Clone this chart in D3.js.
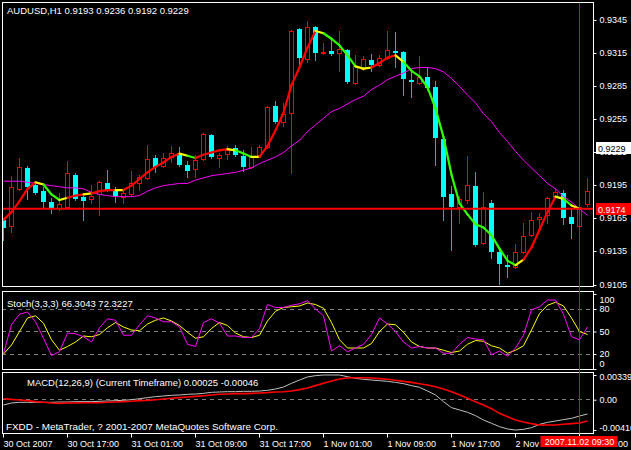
<!DOCTYPE html>
<html><head><meta charset="utf-8">
<script src="https://cdn.jsdelivr.net/npm/d3@7"></script>
<style>
html,body{margin:0;padding:0;background:#000;}
svg{display:block;}
text{font-family:"Liberation Sans",Arial,sans-serif;font-size:9.5px;fill:#fff;}
</style></head><body>
<svg id="c" width="631" height="450"></svg>
<script>
// ---------- DATA ----------
const symbolTitle = "AUDUSD,H1  0.9193 0.9236 0.9192 0.9229";
const stochTitle = "Stoch(3,3,3) 66.3043 72.3227";
const macdTitle = "MACD(12,26,9) (Current Timeframe) 0.00025 -0.00046";
const brokerText = "FXDD - MetaTrader, ? 2001-2007 MetaQuotes Software Corp.";

const openP = [.9164,.9158,.9192,.9211,.9196,.9190,.9180,.9175,.9176,.9205,
 .9185,.9183,.9187,.9197,.9192,.9185,.9187,.9197,.9202,.9220,
 .9213,.9221,.9225,.9214,.9210,.9219,.9241,.9220,.9224,.9229,
 .9222,.9212,.9223,.9230,.9267,.9253,.9261,.9337,.9310,.9339,
 .9315,.9317,.9315,.9318,.9288,.9301,.9309,.9304,.9311,.9317,
 .9316,.9291,.9288,.9293,.9284,.9237,.9187,.9176,.9182,.9195,
 .9143,.9179,.9135,.9123,.9121,.9135,.9150,.9165,.9168,.9185,
 .9188,.9167,.9158,.9178];
const highP = [.9166,.9204,.9220,.9213,.9198,.9194,.9184,.9188,.9217,.9206,
 .9186,.9196,.9199,.9209,.9194,.9190,.9208,.9205,.9232,.9223,
 .9225,.9231,.9230,.9217,.9223,.9243,.9242,.9225,.9231,.9232,
 .9227,.9230,.9232,.9267,.9272,.9270,.9336,.9338,.9344,.9340,
 .9324,.9327,.9335,.9319,.9313,.9312,.9314,.9313,.9335,.9334,
 .9317,.9300,.9312,.9302,.9290,.9240,.9195,.9186,.9222,.9207,
 .9189,.9182,.9139,.9132,.9142,.9161,.9171,.9170,.9185,.9193,
 .9191,.9174,.9177,.9202];
const lowP = [.9146,.9153,.9191,.9183,.9187,.9175,.9170,.9173,.9175,.9182,
 .9164,.9179,.9168,.9190,.9180,.9179,.9186,.9191,.9201,.9207,
 .9212,.9216,.9213,.9203,.9203,.9218,.9220,.9212,.9219,.9222,
 .9208,.9211,.9222,.9229,.9252,.9249,.9206,.9302,.9307,.9309,
 .9314,.9313,.9299,.9288,.9287,.9300,.9299,.9303,.9310,.9302,
 .9277,.9275,.9287,.9282,.9214,.9164,.9137,.9161,.9179,.9140,
 .9142,.9129,.9106,.9112,.9120,.9134,.9149,.9157,.9161,.9184,
 .9160,.9148,.9157,.9177];
const closeP = [.9157,.9194,.9212,.9194,.9188,.9180,.9175,.9178,.9206,.9183,
 .9181,.9186,.9198,.9191,.9186,.9188,.9197,.9203,.9219,.9212,
 .9220,.9225,.9214,.9208,.9218,.9242,.9221,.9223,.9227,.9223,
 .9212,.9221,.9230,.9266,.9253,.9260,.9335,.9311,.9339,.9315,
 .9316,.9314,.9319,.9289,.9303,.9310,.9304,.9311,.9318,.9315,
 .9292,.9289,.9293,.9283,.9238,.9185,.9176,.9183,.9196,.9141,
 .9176,.9135,.9124,.9121,.9135,.9149,.9164,.9167,.9184,.9189,
 .9166,.9160,.9176,.9190];

// coloured fast MA and its trend state (1 up, -1 down, 0 flat)
const maFast = [.9164,.9171,.9181,.9192,.9198,.9196,.9187,.9182,.9184,.9186,
 .9187,.9188,.9190,.9191,.9191,.9191,.9195,.9201,.9207,.9212,
 .9216,.9221,.9224,.9222,.9220,.9223,.9225,.9227,.9228,.9227,
 .9224,.9221,.9221,.9231,.9245,.9261,.9286,.9302,.9320,.9335,
 .9333,.9328,.9322,.9313,.9303,.9301,.9302,.9306,.9311,.9313,
 .9307,.9299,.9294,.9284,.9265,.9239,.9205,.9179,.9169,.9160,
 .9157,.9150,.9138,.9127,.9123,.9128,.9139,.9155,.9171,.9185,
 .9183,.9177,.9174,null];
const maTrend = [0,1,1,1,1,0,-1,-1,0,1,
 1,0,1,1,1,0,1,1,1,1,
 1,1,1,0,-1,1,1,1,1,0,
 -1,-1,0,1,1,1,1,1,1,1,
 0,-1,-1,-1,-1,0,0,1,1,1,
 0,-1,-1,-1,-1,-1,-1,-1,-1,-1,
 -1,-1,-1,-1,-1,0,1,1,1,1,
 0,-1,0,0];
// slow MA (magenta)
const maSlow = [.9199,.9199,.9199,.9198,.9197,.9196,.9195,.9194,.9193,.9193,
 .9192,.9189,.9187,.9186,.9185,.9185,.9185,.9186,.9190,.9193,
 .9195,.9196,.9197,.9197,.9200,.9202,.9204,.9205,.9206,.9207,
 .9209,.9211,.9215,.9218,.9221,.9225,.9231,.9236,.9244,.9250,
 .9256,.9262,.9265,.9269,.9273,.9276,.9282,.9286,.9291,.9294,
 .9297,.9301,.9302,.9302,.9301,.9298,.9292,.9285,.9277,.9270,
 .9260,.9253,.9243,.9235,.9226,.9218,.9211,.9204,.9197,.9192,
 .9185,.9180,.9174,.9168];

const stochK = [21,59,73,76,63,41,18,23,48,47,43,36,55,67,65,45,45,59,71,68,
 63,63,56,33,30,62,67,61,44,44,42,42,54,86,82,82,85,87,91,80,
 71,24,31,23,28,33,46,68,60,50,36,28,30,28,28,21,21,33,42,40,
 39,19,24,17,28,45,79,83,92,92,73,43,39,56];
const stochD = [20,32,50,68,71,61,39,25,30,36,44,43,46,55,62,56,52,51,60,65,
 68,64,58,49,41,43,54,62,58,48,43,42,45,64,77,82,83,84,88,86,
 81,62,39,28,28,28,34,50,60,59,49,36,30,28,28,25,22,24,33,38,
 37,31,28,21,25,31,52,74,85,89,84,68,50,46];
const stochLevels = [80,50,20];
const stochTicks = [100,80,50,20,0];

const macdMain = [-.00073,-.00045,-.00036,-.00036,-.00036,-.00036,-.00036,-.00032,-.00032,-.00027,
 -.00027,-.00027,-.00022,-.00018,-.00013,-.00009,.00000,.00014,.00028,.00042,
 .00051,.00060,.00065,.00074,.00078,.00087,.00101,.00106,.00110,.00110,
 .00115,.00115,.00119,.00129,.00147,.00174,.00225,.00270,.00312,.00330,
 .00339,.00339,.00339,.00316,.00293,.00280,.00270,.00261,.00252,.00238,
 .00220,.00193,.00170,.00119,.00065,-.00027,-.00109,-.00141,-.00173,-.00219,
 -.00279,-.00324,-.00370,-.00402,-.00416,-.00407,-.00384,-.00338,-.00311,-.00292,
 -.00274,-.00256,-.00224,-.00196];
const macdSignal = [.00014,.00005,-.00004,-.00013,-.00027,-.00036,-.00045,-.00050,-.00045,-.00045,
 -.00041,-.00041,-.00041,-.00036,-.00032,-.00027,-.00022,-.00013,-.00009,.00000,
 .00010,.00019,.00028,.00037,.00046,.00055,.00065,.00074,.00078,.00083,
 .00083,.00087,.00092,.00097,.00106,.00110,.00119,.00138,.00161,.00193,
 .00225,.00257,.00284,.00298,.00302,.00302,.00298,.00289,.00280,.00266,
 .00252,.00238,.00220,.00202,.00179,.00147,.00110,.00069,.00019,-.00027,
 -.00073,-.00123,-.00187,-.00233,-.00279,-.00306,-.00329,-.00347,-.00347,-.00347,
 -.00338,-.00329,-.00320,-.00292];
const macdTicks = [0.00339, 0, -0.00416];
const macdTickLabels = ["0.00339","0.00","-0.00416"];

const priceTicks = [0.9345,0.9315,0.9285,0.9255,0.9225,0.9195,0.9165,0.9135,0.9105];
const timeTickIdx = [0,8,16,24,32,40,48,56,64,72];
const timeTickLabels = ["30 Oct 2007","30 Oct 17:00","31 Oct 01:00","31 Oct 09:00","31 Oct 17:00",
 "1 Nov 01:00","1 Nov 09:00","1 Nov 17:00","2 Nov 01:00","2 Nov 09:00"];
const hLinePrice = 0.9174;
const bidPrice = 0.9229;
const vLineIdx = 72;
const vLineLabel = "2007.11.02 09:30";

// ---------- LAYOUT ----------
const L = 2, R = 593;
const main = {t:2, b:286};
const sto = {t:291, b:369};
const mac = {t:372, b:433};
const BULL = "#ff0000", BEAR = "#00ffff", BEARWICK = "#20b2aa";
const trendColor = {"1":"#ff0000","-1":"#33ff00","0":"#ffff00"};
const AXFONT = "9px";

const svg = d3.select("#c");
svg.append("rect").attr("width",631).attr("height",450).attr("fill","#000");

const x = d3.scaleLinear().domain([0,73]).range([3.5,587.5]);
const yP = d3.scaleLinear().domain([0.9105,0.9345]).range([285,20]);
const yS = d3.scaleLinear().domain([0,100]).range([369,294]);
const yM = d3.scaleLinear().domain([-0.00416,0.00339]).range([430,375]);

const defs = svg.append("defs");
function clip(id,p){defs.append("clipPath").attr("id",id).append("rect")
  .attr("x",L+1).attr("y",p.t+1).attr("width",R-L-1).attr("height",p.b-p.t-1);}
clip("cm",main); clip("cs",sto); clip("cd",mac);

const idx = d3.range(openP.length);
const px = v => Math.round(v-0.5)+0.5;

// ---------- MAIN ----------
const gm = svg.append("g").attr("clip-path","url(#cm)");
gm.selectAll(".wick").data(idx).join("line")
  .attr("x1",i=>px(x(i))).attr("x2",i=>px(x(i)))
  .attr("y1",i=>Math.round(yP(highP[i]))).attr("y2",i=>Math.round(yP(lowP[i]))+1)
  .attr("stroke",i=>closeP[i]>=openP[i]?BULL:BEARWICK).attr("stroke-width",1);
const bulls = idx.filter(i=>closeP[i]>=openP[i]);
const bears = idx.filter(i=>closeP[i]<openP[i]);
gm.selectAll(".bull").data(bulls).join("rect")
  .attr("x",i=>px(x(i))-2).attr("width",4)
  .attr("y",i=>Math.round(yP(closeP[i]))+0.5)
  .attr("height",i=>Math.max(0,Math.round(yP(openP[i]))-Math.round(yP(closeP[i]))))
  .attr("fill","#000").attr("stroke",BULL).attr("stroke-width",1);
gm.selectAll(".bear").data(bears).join("rect")
  .attr("x",i=>px(x(i))-2.5).attr("width",5)
  .attr("y",i=>Math.round(yP(openP[i])))
  .attr("height",i=>Math.max(1,Math.round(yP(closeP[i]))-Math.round(yP(openP[i]))))
  .attr("fill",BEAR);

// slow MA
gm.append("path").datum(idx).attr("fill","none").attr("stroke","#ff00ff").attr("stroke-width",1)
  .attr("d",d3.line().x(i=>x(i)).y(i=>yP(maSlow[i])));
// fast coloured MA
const segs = idx.filter(i=>i>0 && maFast[i]!=null && maFast[i-1]!=null);
gm.selectAll(".seg").data(segs).join("line")
  .attr("x1",i=>x(i-1)).attr("y1",i=>yP(maFast[i-1]))
  .attr("x2",i=>x(i)).attr("y2",i=>yP(maFast[i]))
  .attr("stroke",i=>trendColor[String(maTrend[i])]).attr("stroke-width",2.2).attr("stroke-linecap","round");

// horizontal line
svg.append("line").attr("x1",L).attr("x2",R).attr("y1",yP(hLinePrice)).attr("y2",yP(hLinePrice))
  .attr("stroke","#ff0000").attr("stroke-width",2);

// ---------- STOCH ----------
const gs = svg.append("g").attr("clip-path","url(#cs)");
gs.selectAll(".lvl").data(stochLevels).join("line")
  .attr("x1",L).attr("x2",R).attr("y1",d=>px(yS(d))).attr("y2",d=>px(yS(d)))
  .attr("stroke","#808080").attr("stroke-dasharray","4,4");
gs.append("path").datum(idx).attr("fill","none").attr("stroke","#ffff00").attr("stroke-width",1)
  .attr("d",d3.line().x(i=>x(i)).y(i=>yS(stochD[i])));
gs.append("path").datum(idx).attr("fill","none").attr("stroke","#ff00ff").attr("stroke-width",1)
  .attr("d",d3.line().x(i=>x(i)).y(i=>yS(stochK[i])));

// ---------- MACD ----------
const gd = svg.append("g").attr("clip-path","url(#cd)");
gd.append("line").attr("x1",L).attr("x2",R).attr("y1",px(yM(0))).attr("y2",px(yM(0)))
  .attr("stroke","#808080").attr("stroke-dasharray","4,4");
gd.append("path").datum(idx).attr("fill","none").attr("stroke","#c0c0c0").attr("stroke-width",1)
  .attr("d",d3.line().x(i=>x(i)).y(i=>yM(macdMain[i])));
gd.append("path").datum(idx).attr("fill","none").attr("stroke","#ff0000").attr("stroke-width",1.6)
  .attr("d",d3.line().x(i=>x(i)).y(i=>yM(macdSignal[i])));

// ---------- BORDERS ----------
[main,sto,mac].forEach(p=>{
  svg.append("rect").attr("x",L+0.5).attr("y",p.t+0.5).attr("width",R-L).attr("height",p.b-p.t)
    .attr("fill","none").attr("stroke","#fff").attr("stroke-width",1);
});

// vertical line
svg.append("rect").attr("x",Math.floor(x(vLineIdx))).attr("y",L+1).attr("width",1).attr("height",mac.b-L)
  .attr("fill","#ff0000").attr("shape-rendering","crispEdges");

// ---------- AXES ----------
function styleAxis(g){
  g.select(".domain").remove();
  g.selectAll(".tick line").attr("stroke","#fff");
  g.selectAll(".tick text").attr("fill","#fff").style("font-family","'Liberation Sans',Arial,sans-serif").style("font-size",AXFONT);
}
const ap = svg.append("g").attr("transform",`translate(${R+0.5},0)`)
  .call(d3.axisRight(yP).tickValues(priceTicks).tickFormat(d3.format(".4f")).tickSize(3).tickPadding(3));
styleAxis(ap);
ap.selectAll(".tick").attr("transform",d=>`translate(0,${px(yP(d))})`);

const as = svg.append("g").attr("transform",`translate(${R+0.5},0)`)
  .call(d3.axisRight(yS).tickValues(stochTicks).tickFormat(d3.format("d")).tickSize(3).tickPadding(3));
styleAxis(as);
as.selectAll(".tick text").attr("dy",d=>d===100?"0.95em":(d===0?"-0.25em":"0.32em"));

const ad = svg.append("g").attr("transform",`translate(${R+0.5},0)`)
  .call(d3.axisRight(yM).tickValues(macdTicks).tickFormat((d,k)=>macdTickLabels[k]).tickSize(3).tickPadding(3));
styleAxis(ad);
ad.selectAll(".tick text").attr("dy",(d,k)=>k===0?"0.55em":(k===2?"0.05em":"0.32em"));

const at = svg.append("g").attr("transform",`translate(0,${mac.b+0.5})`)
  .call(d3.axisBottom(x).tickValues(timeTickIdx).tickFormat((d,k)=>timeTickLabels[k]).tickSize(4).tickPadding(2));
styleAxis(at);
at.selectAll(".tick").attr("transform",d=>`translate(${px(x(d))},0)`);
at.selectAll(".tick text").attr("text-anchor","start").attr("x",0).attr("dy","0.85em");

// bid label box
const by = Math.round(yP(bidPrice));
svg.append("rect").attr("x",R+3).attr("y",by-6).attr("width",40).attr("height",12).attr("fill","#fff");
svg.append("text").attr("x",R+5).attr("y",by+3.5).style("fill","#000").style("font-size",AXFONT).text(d3.format(".4f")(bidPrice));
// hline label box
const hy = Math.round(yP(hLinePrice));
svg.append("rect").attr("x",R+3).attr("y",hy-6).attr("width",40).attr("height",12).attr("fill","#ff0000");
svg.append("text").attr("x",R+5).attr("y",hy+3.5).style("font-size",AXFONT).text(d3.format(".4f")(hLinePrice));
// vline time label
const vx = px(x(vLineIdx));
svg.append("rect").attr("x",vx-39).attr("y",mac.b+3).attr("width",77).attr("height",11).attr("fill","#ff0000");
svg.append("text").attr("x",vx).attr("y",mac.b+12).attr("text-anchor","middle").style("font-size",AXFONT).text(vLineLabel);

// ---------- TITLES ----------
svg.append("text").attr("x",7).attr("y",14).text(symbolTitle);
svg.append("text").attr("x",7).attr("y",306.5).text(stochTitle);
svg.append("text").attr("x",27).attr("y",385.5).text(macdTitle);
svg.append("text").attr("x",6).attr("y",429.5).style("font-size","9.9px").text(brokerText);
</script>
</body></html>
